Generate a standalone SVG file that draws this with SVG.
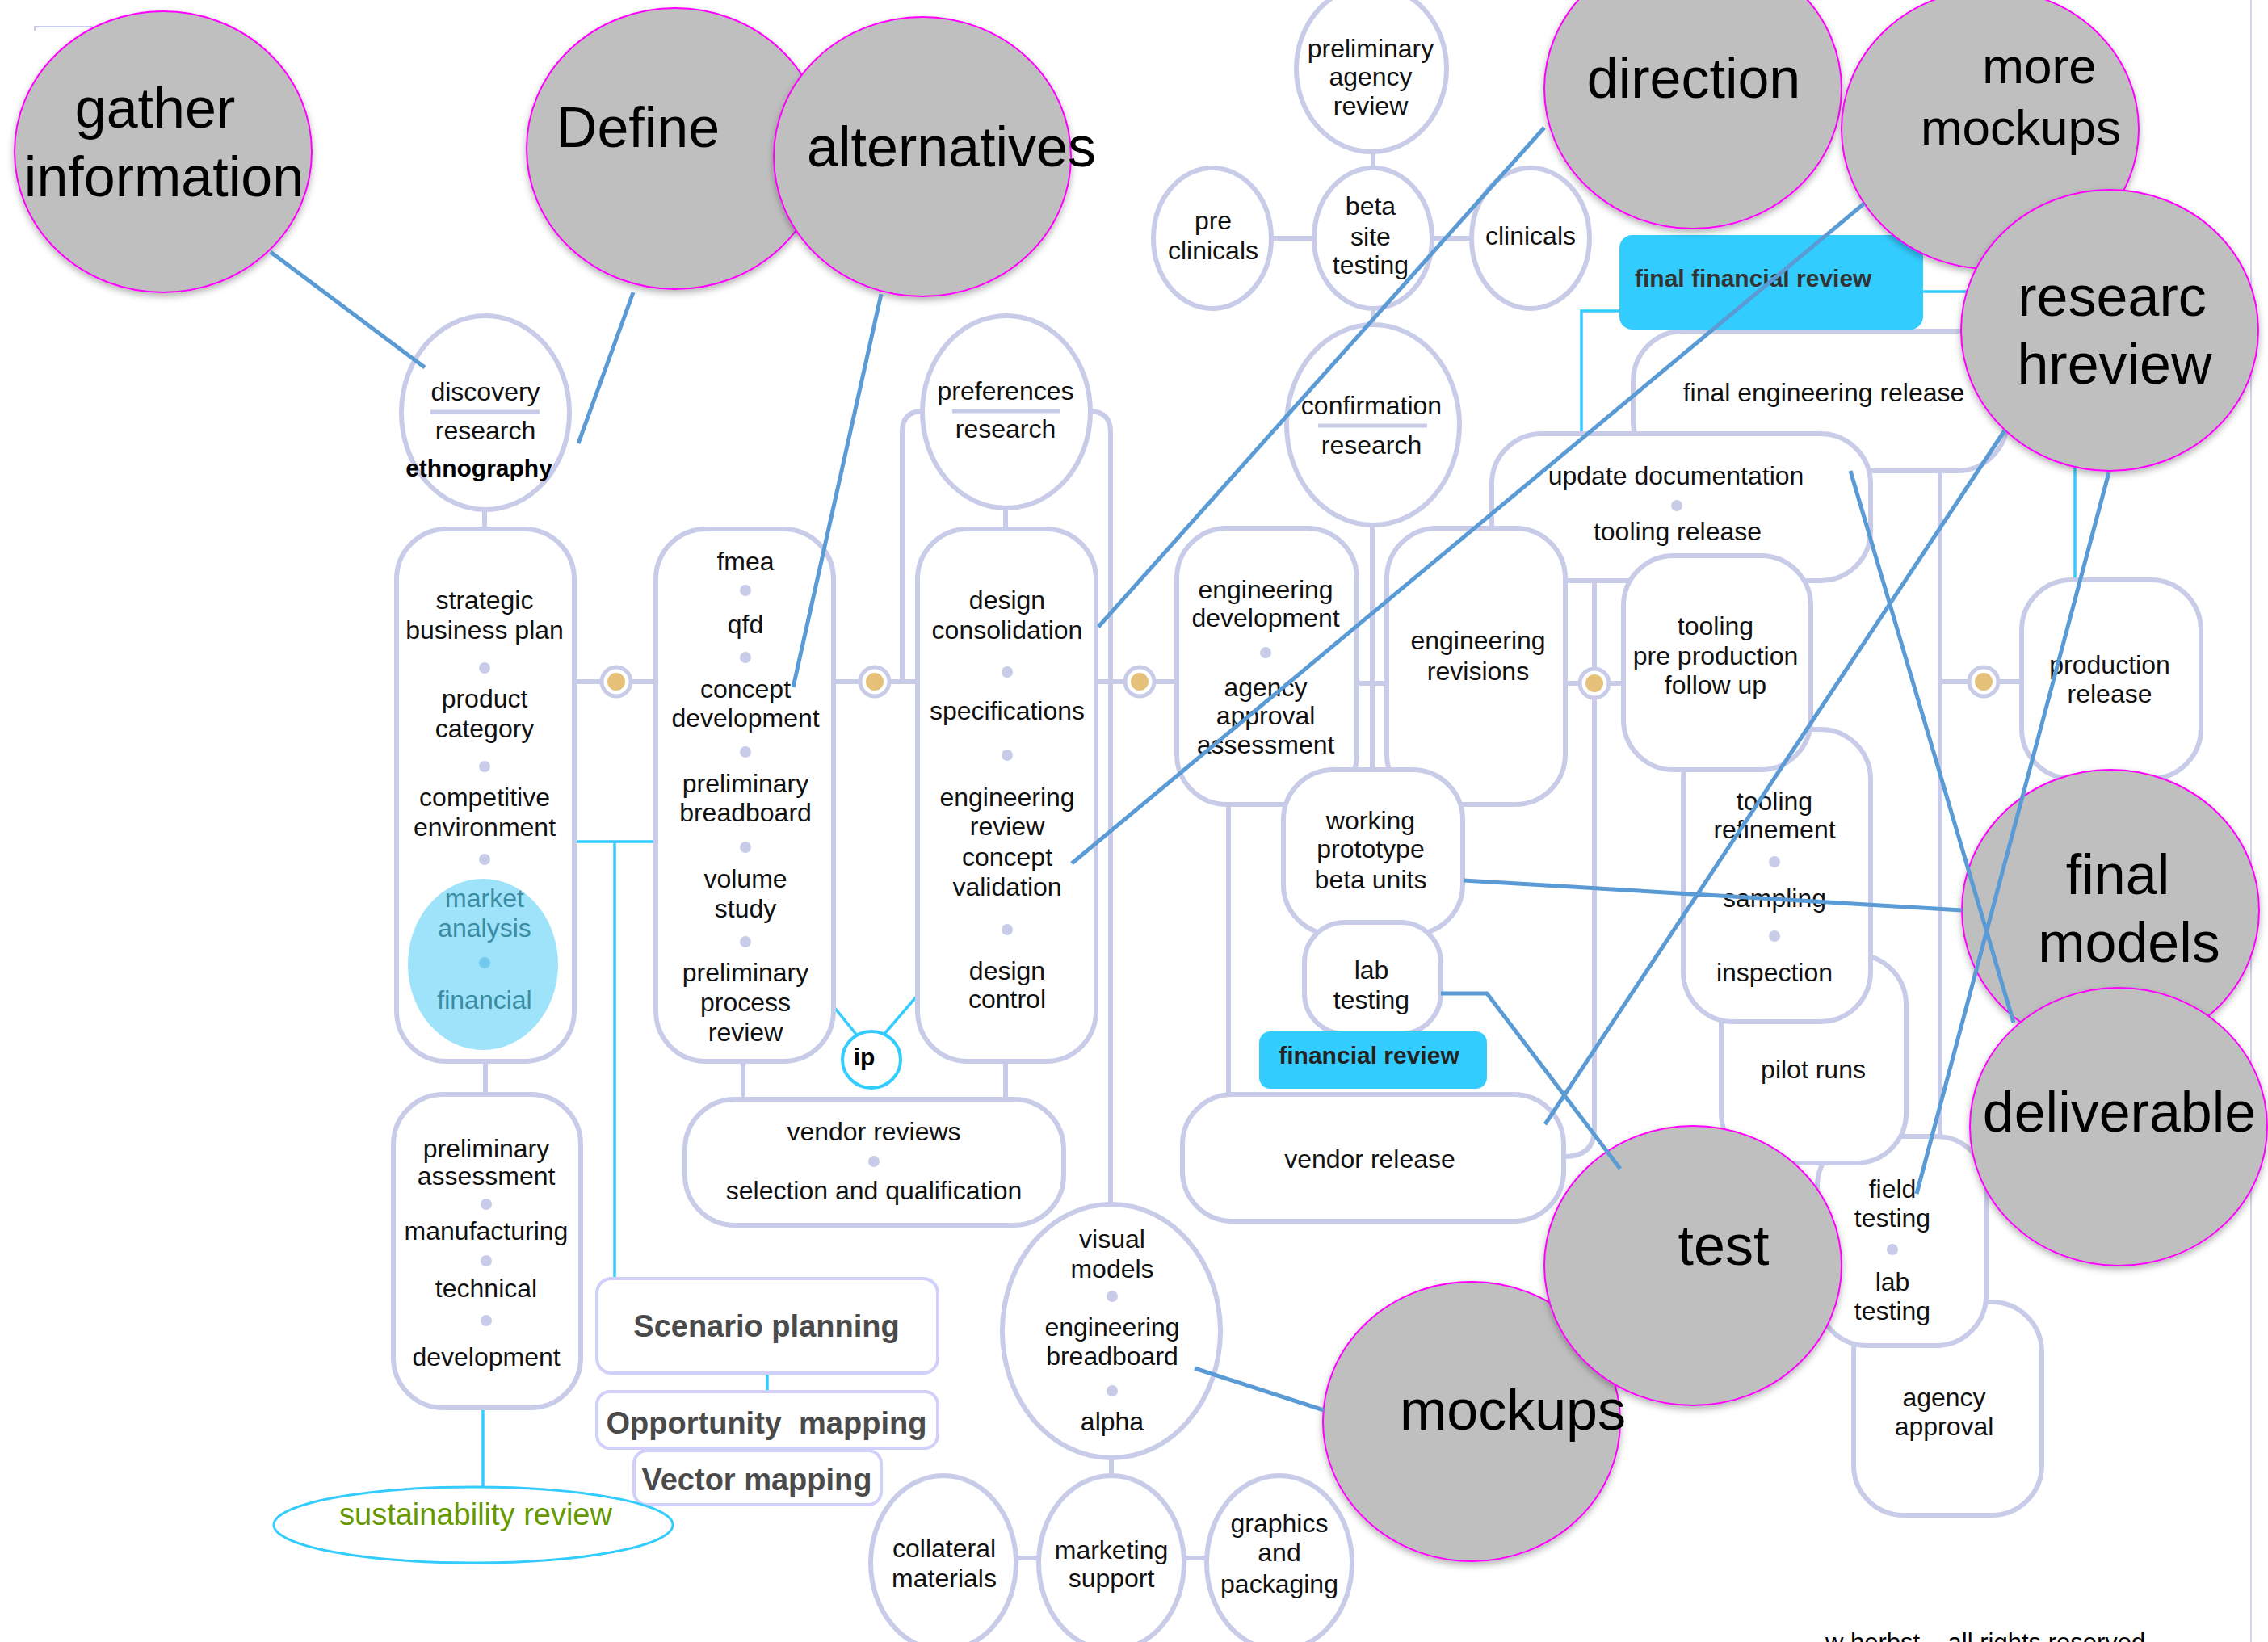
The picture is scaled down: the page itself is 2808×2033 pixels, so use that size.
<svg xmlns="http://www.w3.org/2000/svg" width="2808" height="2033" viewBox="0 0 2808 2033">
<defs>
<filter id="sh" x="-10%" y="-10%" width="120%" height="125%"><feDropShadow dx="0" dy="4" stdDeviation="4" flood-color="#000" flood-opacity="0.3"/></filter>
</defs>
<style>
.n{fill:#fff;stroke:#c8cce8;stroke-width:6}
.t{font-family:"Liberation Sans",Arial,sans-serif;font-size:32px;fill:#111;text-anchor:middle}
.d{fill:#c8cce8}
.ul{stroke:#c8cce8;stroke-width:5}
.lc{fill:none;stroke:#c8cce8;stroke-width:6}
.cy{fill:none;stroke:#33ccff;stroke-width:3.5}
.bl{fill:none;stroke:#5b9bd5;stroke-width:5}
.g{fill:#bfbfbf;stroke:#ff00ff;stroke-width:2;filter:url(#sh)}
.big{font-family:"Liberation Sans",Arial,sans-serif;font-size:70px;fill:#000;text-anchor:middle}
.big62{font-size:62px}
.mo{fill:#fff;stroke:#c8cce8;stroke-width:5}
.mi{fill:#e6c17a}
.sc{fill:#fff;stroke:#d0d0fa;stroke-width:4}
.sct{font-family:"Liberation Sans",Arial,sans-serif;font-size:38px;font-weight:bold;fill:#4a4a4a;text-anchor:middle}
.bt{font-family:"Liberation Sans",Arial,sans-serif;font-size:30px;font-weight:bold}
.cb{fill:#33ccff}
.ma{fill:#3a8ca3}
</style>
<rect width="2808" height="2033" fill="#fff"/>

<g id="connectors">
<path d="M43,38 V33 H115" fill="none" stroke="#c8cce8" stroke-width="2"/>
<path d="M2787,0 V2033" fill="none" stroke="#d4d4f4" stroke-width="2"/>
<path class="lc" d="M600,632 V655"/>
<path class="lc" d="M711,844 H812"/>
<path class="lc" d="M1032,844 H1136"/>
<path class="lc" d="M1117,844 V535 Q1117,509 1143,509"/>
<path class="lc" d="M1348,509 Q1375,509 1375,535 V1492"/>
<path class="lc" d="M1245,629 V655"/>
<path class="lc" d="M1357,844 H1457"/>
<path class="lc" d="M601,1314 V1356"/>
<path class="lc" d="M920,1314 V1361"/>
<path class="lc" d="M1245,1314 V1361"/>
<path class="lc" d="M1700,187 V208"/>
<path class="lc" d="M1700,382 V402"/>
<path class="lc" d="M1574,295 H1627"/>
<path class="lc" d="M1773,295 H1823"/>
<path class="lc" d="M1699,650 V953"/>
<path class="lc" d="M1680,846 H1717"/>
<path class="lc" d="M1521,996 V1355"/>
<path class="lc" d="M1938,846 H2010"/>
<path class="lc" d="M1974,719 V1398 Q1974,1432 1936,1432"/>
<path class="lc" d="M2402,583 V1407"/>
<path class="lc" d="M2402,844 H2503"/>
<path class="lc" d="M1376,1805 V1827"/>
<path class="lc" d="M1258,1929 H1286"/>
<path class="lc" d="M1465,1929 H1494"/>
<path class="cy" d="M691,1042 H809"/>
<path class="cy" d="M761,1042 V1583"/>
<path class="cy" d="M950,1700 V1723"/>
<path class="cy" d="M598,1746 V1841"/>
<path class="cy" d="M2005,385 H1958 V545"/>
<path class="cy" d="M2381,361 H2569 V718"/>
<path class="cy" d="M1019,1230 L1062,1283"/>
<path class="cy" d="M1138,1230 L1095,1280"/>
<circle class="mo" cx="763" cy="844" r="18"/><circle class="mi" cx="763" cy="844" r="11"/>
<circle class="mo" cx="1083" cy="844" r="18"/><circle class="mi" cx="1083" cy="844" r="11"/>
<circle class="mo" cx="1411" cy="844" r="18"/><circle class="mi" cx="1411" cy="844" r="11"/>
<circle class="mo" cx="1974" cy="846" r="18"/><circle class="mi" cx="1974" cy="846" r="11"/>
<circle class="mo" cx="2456" cy="844" r="18"/><circle class="mi" cx="2456" cy="844" r="11"/>
</g>

<g id="discovery-research">
<ellipse class="n" cx="601" cy="511" rx="104" ry="120"/>
<text class="t" x="601" y="496">discovery</text>
<path class="ul" d="M533,510 H668"/>
<text class="t" x="601" y="544">research</text>
<text class="bt" x="593" y="590" text-anchor="middle" fill="#000">ethnography</text>
</g>

<g id="strategic">
<rect class="n" x="491" y="655" width="220" height="659" rx="62"/>
<text class="t" x="600" y="754">strategic</text>
<text class="t" x="600" y="791">business plan</text>
<circle class="d" cx="600" cy="827" r="7"/>
<text class="t" x="600" y="876">product</text>
<text class="t" x="600" y="913">category</text>
<circle class="d" cx="600" cy="949" r="7"/>
<text class="t" x="600" y="998">competitive</text>
<text class="t" x="600" y="1035">environment</text>
<circle class="d" cx="600" cy="1064" r="7"/>
<ellipse cx="598" cy="1194" rx="93" ry="106" fill="#9fe3fa"/>
<text class="t ma" x="600" y="1123">market</text>
<text class="t ma" x="600" y="1160">analysis</text>
<circle cx="600" cy="1192" r="7" fill="#74c9ee"/>
<text class="t ma" x="600" y="1249">financial</text>
</g>

<g id="preliminary-assessment">
<rect class="n" x="487" y="1355" width="232" height="388" rx="62"/>
<text class="t" x="602" y="1433">preliminary</text>
<text class="t" x="602" y="1467">assessment</text>
<circle class="d" cx="602" cy="1491" r="7"/>
<text class="t" x="602" y="1535">manufacturing</text>
<circle class="d" cx="602" cy="1561" r="7"/>
<text class="t" x="602" y="1606">technical</text>
<circle class="d" cx="602" cy="1635" r="7"/>
<text class="t" x="602" y="1691">development</text>
</g>

<g id="fmea">
<rect class="n" x="812" y="655" width="220" height="659" rx="62"/>
<text class="t" x="923" y="706">fmea</text>
<circle class="d" cx="923" cy="731" r="7"/>
<text class="t" x="923" y="784">qfd</text>
<circle class="d" cx="923" cy="814" r="7"/>
<text class="t" x="923" y="864">concept</text>
<text class="t" x="923" y="900">development</text>
<circle class="d" cx="923" cy="931" r="7"/>
<text class="t" x="923" y="981">preliminary</text>
<text class="t" x="923" y="1017">breadboard</text>
<circle class="d" cx="923" cy="1049" r="7"/>
<text class="t" x="923" y="1099">volume</text>
<text class="t" x="923" y="1136">study</text>
<circle class="d" cx="923" cy="1166" r="7"/>
<text class="t" x="923" y="1215">preliminary</text>
<text class="t" x="923" y="1252">process</text>
<text class="t" x="923" y="1289">review</text>
</g>

<g id="preferences-research">
<ellipse class="n" cx="1246" cy="510" rx="104" ry="119"/>
<text class="t" x="1245" y="495">preferences</text>
<path class="ul" d="M1179,509 H1312"/>
<text class="t" x="1245" y="542">research</text>
</g>

<g id="design">
<rect class="n" x="1136" y="655" width="221" height="659" rx="62"/>
<text class="t" x="1247" y="754">design</text>
<text class="t" x="1247" y="791">consolidation</text>
<circle class="d" cx="1247" cy="832" r="7"/>
<text class="t" x="1247" y="891">specifications</text>
<circle class="d" cx="1247" cy="935" r="7"/>
<text class="t" x="1247" y="998">engineering</text>
<text class="t" x="1247" y="1034">review</text>
<text class="t" x="1247" y="1072">concept</text>
<text class="t" x="1247" y="1109">validation</text>
<circle class="d" cx="1247" cy="1151" r="7"/>
<text class="t" x="1247" y="1213">design</text>
<text class="t" x="1247" y="1248">control</text>
</g>

<g id="vendor-reviews">
<rect class="n" x="848" y="1361" width="469" height="156" rx="62"/>
<text class="t" x="1082" y="1412">vendor reviews</text>
<circle class="d" cx="1082" cy="1438" r="7"/>
<text class="t" x="1082" y="1485">selection and qualification</text>
</g>

<g id="ip">
<ellipse cx="1079" cy="1312" rx="36" ry="35" fill="#fff" stroke="#33ccff" stroke-width="4"/>
<text class="bt" x="1070" y="1319" text-anchor="middle" fill="#000">ip</text>
</g>

<g id="preliminary-agency-review">
<ellipse class="n" cx="1698" cy="85" rx="93" ry="103"/>
<text class="t" x="1697" y="71">preliminary</text>
<text class="t" x="1697" y="106">agency</text>
<text class="t" x="1697" y="142">review</text>
</g>
<g id="beta-site-testing">
<ellipse class="n" cx="1700" cy="295" rx="73" ry="87"/>
<text class="t" x="1697" y="266">beta</text>
<text class="t" x="1697" y="304">site</text>
<text class="t" x="1697" y="339">testing</text>
</g>
<g id="pre-clinicals">
<ellipse class="n" cx="1501" cy="295" rx="73" ry="87"/>
<text class="t" x="1502" y="284">pre</text>
<text class="t" x="1502" y="321">clinicals</text>
</g>
<g id="clinicals">
<ellipse class="n" cx="1895" cy="295" rx="73" ry="87"/>
<text class="t" x="1895" y="303">clinicals</text>
</g>
<g id="confirmation-research">
<ellipse class="n" cx="1700" cy="526" rx="107" ry="124"/>
<text class="t" x="1698" y="513">confirmation</text>
<path class="ul" d="M1632,527 H1767"/>
<text class="t" x="1698" y="562">research</text>
</g>

<g id="engineering-development">
<rect class="n" x="1457" y="654" width="223" height="342" rx="62"/>
<text class="t" x="1567" y="741">engineering</text>
<text class="t" x="1567" y="776">development</text>
<circle class="d" cx="1567" cy="808" r="7"/>
<text class="t" x="1567" y="862">agency</text>
<text class="t" x="1567" y="897">approval</text>
<text class="t" x="1567" y="933">assessment</text>
</g>

<g id="final-engineering-release">
<rect class="n" x="2022" y="410" width="463" height="173" rx="62"/>
<text class="t" x="2258" y="497">final engineering release</text>
</g>
<g id="update-documentation">
<rect class="n" x="1847" y="537" width="469" height="182" rx="62"/>
<text class="t" x="2075" y="600">update documentation</text>
<circle class="d" cx="2076" cy="626" r="7"/>
<text class="t" x="2077" y="669">tooling release</text>
</g>
<g id="engineering-revisions">
<rect class="n" x="1717" y="654" width="221" height="342" rx="62"/>
<text class="t" x="1830" y="804">engineering</text>
<text class="t" x="1830" y="842">revisions</text>
</g>

<g id="agency-approval">
<rect class="n" x="2295" y="1612" width="233" height="264" rx="62"/>
<text class="t" x="2407" y="1741">agency</text>
<text class="t" x="2407" y="1777">approval</text>
</g>
<g id="field-testing">
<rect class="n" x="2250" y="1407" width="209" height="259" rx="62"/>
<text class="t" x="2343" y="1483">field</text>
<text class="t" x="2343" y="1519">testing</text>
<circle class="d" cx="2343" cy="1547" r="7"/>
<text class="t" x="2343" y="1598">lab</text>
<text class="t" x="2343" y="1634">testing</text>
</g>
<g id="pilot-runs">
<rect class="n" x="2131" y="1182" width="229" height="258" rx="62"/>
<text class="t" x="2245" y="1335">pilot runs</text>
</g>
<g id="tooling-refinement">
<rect class="n" x="2084" y="903" width="232" height="362" rx="62"/>
<text class="t" x="2197" y="1003">tooling</text>
<text class="t" x="2197" y="1038">refinement</text>
<circle class="d" cx="2197" cy="1067" r="7"/>
<text class="t" x="2197" y="1123">sampling</text>
<circle class="d" cx="2197" cy="1159" r="7"/>
<text class="t" x="2197" y="1215">inspection</text>
</g>
<g id="tooling-pre-production">
<rect class="n" x="2010" y="688" width="232" height="265" rx="62"/>
<text class="t" x="2124" y="786">tooling</text>
<text class="t" x="2124" y="823">pre production</text>
<text class="t" x="2124" y="859">follow up</text>
</g>

<g id="working-prototype">
<rect class="n" x="1589" y="953" width="222" height="204" rx="62"/>
<text class="t" x="1697" y="1027">working</text>
<text class="t" x="1697" y="1062">prototype</text>
<text class="t" x="1697" y="1100">beta units</text>
</g>
<g id="lab-testing">
<rect class="n" x="1615" y="1142" width="169" height="138" rx="50"/>
<text class="t" x="1698" y="1212">lab</text>
<text class="t" x="1698" y="1249">testing</text>
</g>
<g id="financial-review">
<rect class="cb" x="1559" y="1277" width="282" height="71" rx="14"/>
<text class="bt" x="1695" y="1317" text-anchor="middle" fill="#222">financial review</text>
</g>
<g id="vendor-release">
<rect class="n" x="1464" y="1355" width="472" height="157" rx="62"/>
<text class="t" x="1696" y="1446">vendor release</text>
</g>
<g id="production-release">
<rect class="n" x="2503" y="718" width="222" height="246" rx="62"/>
<text class="t" x="2612" y="834">production</text>
<text class="t" x="2612" y="870">release</text>
</g>
<g id="final-financial-review">
<rect class="cb" x="2005" y="291" width="376" height="117" rx="16"/>
<text class="bt" x="2024" y="355" fill="#333">final financial review</text>
</g>

<g id="visual-models">
<ellipse class="n" cx="1376" cy="1648" rx="135" ry="157"/>
<text class="t" x="1377" y="1545">visual</text>
<text class="t" x="1377" y="1582">models</text>
<circle class="d" cx="1377" cy="1605" r="7"/>
<text class="t" x="1377" y="1654">engineering</text>
<text class="t" x="1377" y="1690">breadboard</text>
<circle class="d" cx="1377" cy="1722" r="7"/>
<text class="t" x="1377" y="1771">alpha</text>
</g>
<g id="collateral-materials">
<ellipse class="n" cx="1168" cy="1935" rx="90" ry="108"/>
<text class="t" x="1169" y="1928">collateral</text>
<text class="t" x="1169" y="1965">materials</text>
</g>
<g id="marketing-support">
<ellipse class="n" cx="1376" cy="1935" rx="90" ry="108"/>
<text class="t" x="1376" y="1930">marketing</text>
<text class="t" x="1376" y="1965">support</text>
</g>
<g id="graphics-packaging">
<ellipse class="n" cx="1584" cy="1935" rx="90" ry="108"/>
<text class="t" x="1584" y="1897">graphics</text>
<text class="t" x="1584" y="1933">and</text>
<text class="t" x="1584" y="1972">packaging</text>
</g>

<g id="scenario-planning">
<rect class="sc" x="739" y="1583" width="422" height="117" rx="18"/>
<text class="sct" x="949" y="1655">Scenario planning</text>
</g>
<g id="opportunity-mapping">
<rect class="sc" x="739" y="1723" width="422" height="70" rx="16"/>
<text class="sct" x="949" y="1775" xml:space="preserve" style="white-space:pre">Opportunity  mapping</text>
</g>
<g id="vector-mapping">
<rect class="sc" x="785" y="1796" width="306" height="67" rx="16"/>
<text class="sct" x="937" y="1845">Vector mapping</text>
</g>
<g id="sustainability-review">
<ellipse cx="586" cy="1888" rx="247" ry="47" fill="#fff" stroke="#33ccff" stroke-width="3"/>
<text x="589" y="1888" font-family="Liberation Sans, Arial, sans-serif" font-size="38" fill="#669900" text-anchor="middle">sustainability review</text>
</g>

<g id="gather-information">
<ellipse class="g" cx="202" cy="188" rx="184" ry="174"/>
<text class="big" x="192" y="158">gather</text>
<text class="big" x="203" y="243">information</text>
</g>
<g id="define">
<ellipse class="g" cx="836" cy="184" rx="184" ry="174"/>
<text class="big" x="790" y="182">Define</text>
</g>
<g id="alternatives">
<ellipse class="g" cx="1142" cy="194" rx="184" ry="173"/>
<text class="big" x="1178" y="206">alternatives</text>
</g>
<g id="direction">
<ellipse class="g" cx="2096" cy="110" rx="184" ry="173"/>
<text class="big" x="2097" y="121">direction</text>
</g>
<g id="more-mockups">
<ellipse class="g" cx="2464" cy="160" rx="184" ry="173"/>
<text class="big big62" x="2525" y="103">more</text>
<text class="big big62" x="2502" y="179">mockups</text>
</g>
<g id="research-review">
<ellipse class="g" cx="2612" cy="409" rx="184" ry="174"/>
<text class="big" x="2615" y="391">researc</text>
<text class="big" x="2618" y="475">hreview</text>
</g>
<g id="final-models">
<ellipse class="g" cx="2613" cy="1127" rx="184" ry="174"/>
<text class="big" x="2622" y="1107">final</text>
<text class="big" x="2636" y="1191">models</text>
</g>
<g id="deliverable">
<ellipse class="g" cx="2623" cy="1395" rx="184" ry="172"/>
<text class="big" x="2624" y="1401">deliverable</text>
</g>
<g id="mockups">
<ellipse class="g" cx="1822" cy="1760" rx="184" ry="173"/>
<text class="big" x="1873" y="1770">mockups</text>
</g>
<g id="test">
<ellipse class="g" cx="2096" cy="1567" rx="184" ry="173"/>
<text class="big" x="2134" y="1566">test</text>
</g>

<g id="callout-connectors">
<path class="bl" d="M335,312 L526,455"/>
<path class="bl" d="M784,362 L716,549"/>
<path class="bl" d="M1091,364 L982,851"/>
<path class="bl" d="M1912,158 L1360,776"/>
<path class="bl" d="M2308,252 L1327,1069"/>
<path class="bl" d="M2482,533 L1913,1392"/>
<path class="bl" d="M2611,585 L2373,1478"/>
<path class="bl" d="M2291,583 L2493,1266"/>
<path class="bl" d="M1812,1090 L2429,1127"/>
<path class="bl" d="M1784,1230 L1841,1230 L2006,1447"/>
<path class="bl" d="M1479,1694 L1639,1746"/>
</g>

<text x="2260" y="2044" font-family="Liberation Sans, Arial, sans-serif" font-size="31" fill="#000">w herbst – all rights reserved</text>
</svg>
